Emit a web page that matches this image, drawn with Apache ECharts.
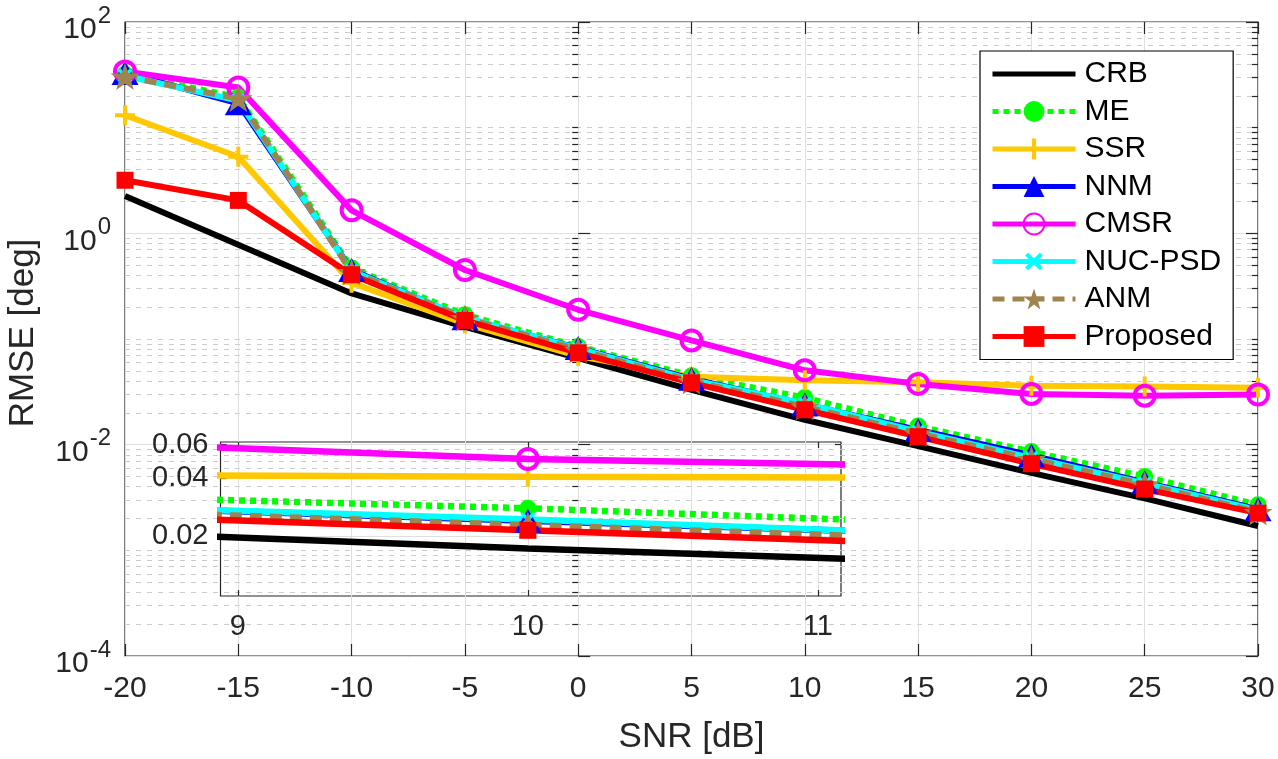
<!DOCTYPE html>
<html>
<head>
<meta charset="utf-8">
<script src="https://cdn.jsdelivr.net/npm/echarts@6/dist/echarts.min.js"></script>
<style>
  html, body { margin: 0; padding: 0; background: #fff; }
  #main { width: 1278px; height: 759px; }
</style>
</head>
<body>
<div id="main"></div>
<script>
// SNR points (dB)
const snr = [-20, -15, -10, -5, 0, 5, 10, 15, 20, 25, 30]

// RMSE [deg]
const crb  = [2.26, 0.78, 0.27, 0.13, 0.066, 0.033, 0.0172, 0.0097, 0.0054, 0.0031, 0.0017]
const me   = [32, 19.5, 0.47, 0.17, 0.085, 0.045, 0.0279, 0.015, 0.0086, 0.0050, 0.0027]
const ssr  = [13.1, 5.3, 0.34, 0.14, 0.069, 0.044, 0.0408, 0.039, 0.0362, 0.0356, 0.0345]
const nnm  = [33, 17, 0.45, 0.157, 0.082, 0.042, 0.0240, 0.0138, 0.0079, 0.0044, 0.00245]
const cmsr = [34, 24, 1.65, 0.45, 0.189, 0.097, 0.0505, 0.0376, 0.0302, 0.0291, 0.0298]
const nuc  = [31, 18, 0.44, 0.16, 0.081, 0.041, 0.0244, 0.0133, 0.0075, 0.0043, 0.0024]
const anm  = [30.5, 18.9, 0.43, 0.158, 0.079, 0.040, 0.0228, 0.0128, 0.0073, 0.0042, 0.0023]
const prop = [3.18, 2.05, 0.406, 0.15, 0.074, 0.0385, 0.0214, 0.0119, 0.0066, 0.0038, 0.00225]

// tick values
const yMajor = [1e-4, 1e-2, 1, 1e2]
const yMinor = []
for (let e = -4; e < 2; e++) {
  for (let m = 1; m < 10; m++) {
    if (m === 1 && e % 2 === 0) continue
    yMinor.push(m * Math.pow(10, e))
  }
}
const insetXTicks = [9, 10, 11]
const insetYTicks = [0.02, 0.04, 0.06]

const FONT = 'Liberation Sans, Arial, Helvetica, sans-serif'
const AXIS = '#262626'
const GRID = '#dfdfdf'
const MINOR = '#cbcbcb'

const plus = 'path://M4,0H6V4H10V6H6V10H4V6H0V4H4Z'
const star = 'path://M50,0L61.8,35.1L98.1,35.1L68.8,56.8L79.4,91L50,70L20.6,91L31.2,56.8L1.9,35.1L38.2,35.1Z'

const lines = [
  { name: 'CRB', data: crb, color: '#000000', symbol: 'circle', size: 0, hollow: true },
  { name: 'ME', data: me, color: '#00ff00', symbol: 'circle', size: 17, dash: [6, 5] },
  { name: 'SSR', data: ssr, color: '#ffc800', symbol: plus, size: 20 },
  { name: 'NNM', data: nnm, color: '#0000ff', symbol: 'triangle', size: [27, 24] },
  { name: 'CMSR', data: cmsr, color: '#ff00ff', symbol: 'circle', size: 20, ring: true },
  { name: 'NUC-PSD', data: nuc, color: '#00ffff', symbol: plus, size: 17, rotate: 45 },
  { name: 'ANM', data: anm, color: '#a0844f', symbol: star, size: [29, 27], dash: [12, 8] },
  { name: 'Proposed', data: prop, color: '#ff0000', symbol: 'rect', size: 17 },
]

function makeSeries(l, xi, yi, width) {
  let itemStyle = { color: l.color }
  if (l.ring) itemStyle = { color: 'rgba(0,0,0,0)', borderColor: l.color, borderWidth: 4 }
  if (l.hollow) itemStyle = { color: 'rgba(0,0,0,0)', borderWidth: 0 }
  return {
    name: l.name,
    type: 'line',
    xAxisIndex: xi,
    yAxisIndex: yi,
    data: snr.map((x, i) => [x, l.data[i]]),
    symbol: l.symbol,
    symbolSize: l.size,
    symbolRotate: l.rotate || 0,
    showSymbol: !l.hollow,
    clip: true,
    lineStyle: { color: l.color, width: width, type: l.dash || 'solid', cap: 'butt' },
    itemStyle: itemStyle,
    emphasis: { disabled: true },
  }
}

// main plot, then the zoomed inset around SNR = 10 dB
const series = []
lines.forEach(l => series.push(makeSeries(l, 0, 0, 6)))
lines.forEach(l => series.push(makeSeries(l, 2, 4, 6.5)))

// 10^e tick label; the "sp" token only sets the line height so the exponent sits high
function expLabel(v) {
  const e = Math.round(Math.log10(v))
  return '{sp|\u200b}{b|10}{s|' + e + '}'
}

const tickStyle = { color: AXIS, width: 1.2 }

const option = {
  animation: false,
  backgroundColor: '#fff',
  textStyle: { fontFamily: FONT },
  grid: [
    { left: 125, top: 22, width: 1133, height: 634, show: true, borderColor: AXIS, borderWidth: 1.2,
      backgroundColor: '#fff', containLabel: false, outerBoundsMode: 'none' },
    { left: 220.5, top: 442, width: 620.5, height: 154, show: true, borderColor: AXIS, borderWidth: 1.2,
      backgroundColor: 'rgba(0,0,0,0)', containLabel: false, outerBoundsMode: 'none' },
  ],
  xAxis: [
    { type: 'value', gridIndex: 0, min: -20, max: 30, interval: 5,
      name: 'SNR [dB]', nameLocation: 'middle', nameGap: 64,
      nameTextStyle: { fontSize: 35, color: AXIS, fontFamily: FONT },
      axisLine: { show: false },
      axisTick: { inside: true, length: 12, lineStyle: tickStyle },
      axisLabel: { fontSize: 30, color: AXIS, margin: 18, fontFamily: FONT },
      splitLine: { show: true, lineStyle: { color: GRID, width: 1 } } },
    { type: 'value', gridIndex: 0, position: 'top', min: -20, max: 30, interval: 5,
      axisLine: { show: false },
      axisTick: { inside: true, length: 12, lineStyle: tickStyle },
      axisLabel: { show: false }, splitLine: { show: false } },
    { type: 'value', gridIndex: 1, min: 8.94, max: 11.08,
      axisLine: { show: false },
      axisTick: { inside: true, length: 6, lineStyle: tickStyle, customValues: insetXTicks },
      axisLabel: { fontSize: 29, color: AXIS, margin: 16, fontFamily: FONT, customValues: insetXTicks,
        formatter: v => String(Math.round(v)) },
      splitLine: { show: true, lineStyle: { color: GRID, width: 1 } } },
    { type: 'value', gridIndex: 1, position: 'top', min: 8.94, max: 11.08,
      axisLine: { show: false },
      axisTick: { inside: true, length: 6, lineStyle: tickStyle, customValues: insetXTicks },
      axisLabel: { show: false }, splitLine: { show: false } },
  ],
  yAxis: [
    { type: 'log', logBase: 10, gridIndex: 0, min: 1e-4, max: 1e2,
      name: 'RMSE [deg]', nameLocation: 'middle', nameGap: 84, nameRotate: 90,
      nameTextStyle: { fontSize: 35, color: AXIS, fontFamily: FONT, padding: [0, 0, 0, 12] },
      axisLine: { show: false },
      axisTick: { inside: true, length: 12, lineStyle: tickStyle, customValues: yMajor },
      axisLabel: { margin: 14, color: AXIS, customValues: yMajor, formatter: expLabel,
        padding: [5, 0, 0, 0],
        rich: {
          sp: { fontSize: 2, lineHeight: 41, verticalAlign: 'bottom' },
          b: { fontSize: 30, lineHeight: 30, color: AXIS, fontFamily: FONT, verticalAlign: 'bottom' },
          s: { fontSize: 24, lineHeight: 23, color: AXIS, fontFamily: FONT, verticalAlign: 'top', padding: [0, 0, 0, 1] },
        } },
      splitLine: { show: true, lineStyle: { color: GRID, width: 1 } } },
    { type: 'log', logBase: 10, gridIndex: 0, min: 1e-4, max: 1e2,
      axisLine: { show: false },
      axisTick: { inside: true, length: 6, lineStyle: tickStyle, customValues: yMinor },
      axisLabel: { show: false },
      splitLine: { show: true, lineStyle: { color: MINOR, width: 1, type: [5, 6] } } },
    { type: 'log', logBase: 10, gridIndex: 0, position: 'right', min: 1e-4, max: 1e2,
      axisLine: { show: false },
      axisTick: { inside: true, length: 12, lineStyle: tickStyle, customValues: yMajor },
      axisLabel: { show: false }, splitLine: { show: false } },
    { type: 'log', logBase: 10, gridIndex: 0, position: 'right', min: 1e-4, max: 1e2,
      axisLine: { show: false },
      axisTick: { inside: true, length: 6, lineStyle: tickStyle, customValues: yMinor },
      axisLabel: { show: false }, splitLine: { show: false } },
    { type: 'log', logBase: 10, gridIndex: 1, min: 0.0097, max: 0.062,
      axisLine: { show: false },
      axisTick: { inside: true, length: 6, lineStyle: tickStyle, customValues: insetYTicks },
      axisLabel: { fontSize: 29, color: AXIS, margin: 12, fontFamily: FONT, customValues: insetYTicks,
        formatter: v => v.toFixed(2) },
      splitLine: { show: true, lineStyle: { color: GRID, width: 1 } } },
    { type: 'log', logBase: 10, gridIndex: 1, position: 'right', min: 0.0097, max: 0.062,
      axisLine: { show: false },
      axisTick: { inside: true, length: 6, lineStyle: tickStyle, customValues: insetYTicks },
      axisLabel: { show: false }, splitLine: { show: false } },
  ],
  legend: {
    orient: 'vertical',
    left: 980, top: 51,
    itemWidth: 83, itemHeight: 26, itemGap: 7.5,
    padding: [8, 12, 8, 10],
    backgroundColor: '#fff',
    borderColor: '#000', borderWidth: 1.2, borderRadius: 0,
    lineStyle: { width: 5 },
    textStyle: { fontSize: 30, color: '#000', fontFamily: FONT, padding: [0, 0, 0, 4] },
    data: lines.map(l => l.name),
  },
  series: series,
}

const chart = echarts.init(document.getElementById('main'), null, { renderer: 'canvas' })
chart.setOption(option)
</script>
</body>
</html>
